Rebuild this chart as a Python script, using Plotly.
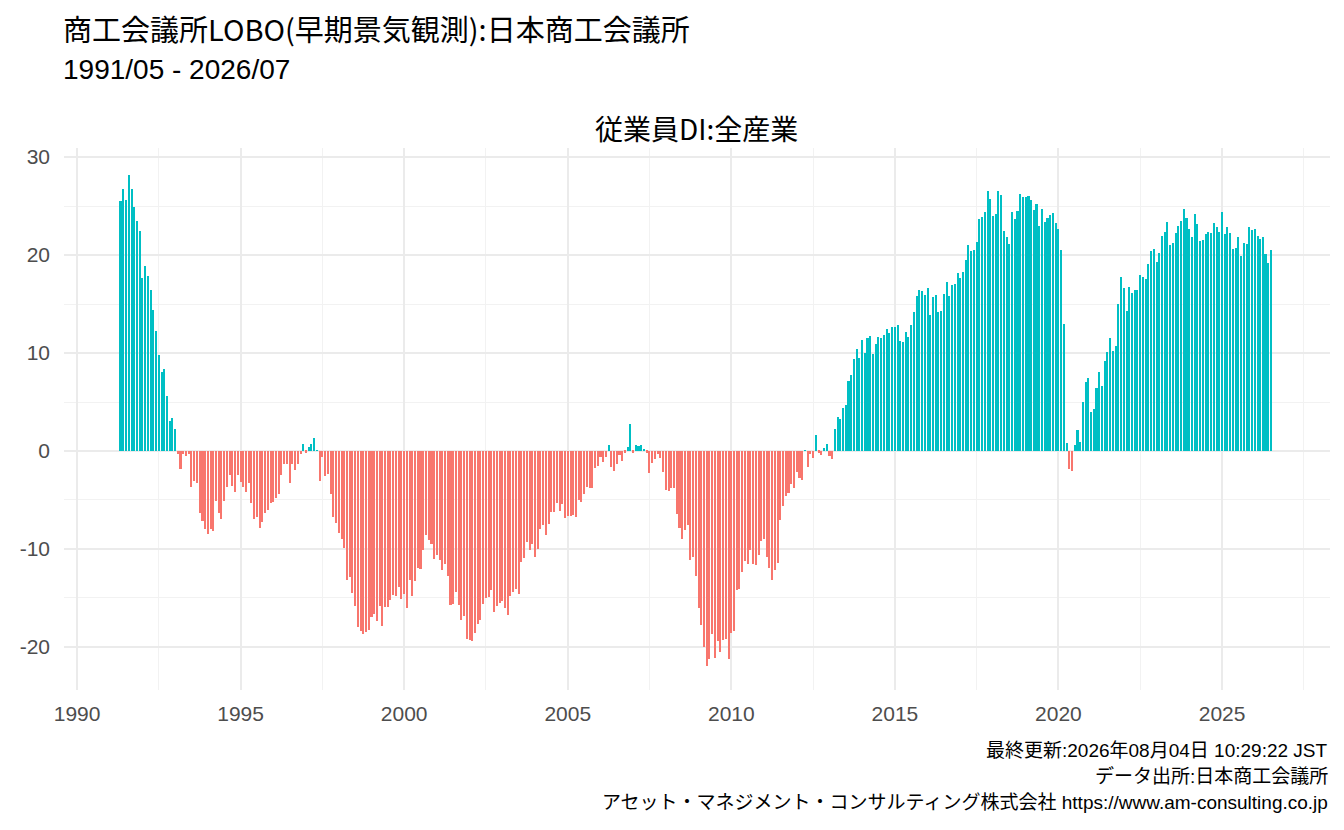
import pandas as pd
import plotly.graph_objects as go

# 従業員DI:全産業, monthly from 1991/05
start_month = "1991-05-01"
di_1991 = [25.5, 26.7, 25.6, 28.2, 26.7, 24.9, 23.5, 22.4]
di_1992 = [17.7, 18.9, 17.9, 16.4, 14.4, 12.2, 9.8, 8.1, 8.4, 5.6, 3.1, 3.4]
di_1993 = [2.2, -0.3, -1.8, -0.3, -0.5, -0.3, -3.7, -3.1, -3.3, -6.3, -7.1, -8.0]
di_1994 = [-8.5, -8.0, -8.2, -5.1, -6.3, -6.9, -5.1, -3.7, -2.4, -3.6, -4.2, -2.4]
di_1995 = [-3.2, -3.7, -4.2, -3.3, -5.3, -6.9, -6.7, -7.9, -7.2, -6.3, -6.0, -5.3]
di_1996 = [-5.2, -4.8, -4.4, -2.5, -1.3, -1.3, -3.3, -1.3, -1.9, -1.3, -0.3, 0.7]
di_1997 = [-0.2, 0.4, 0.7, 1.3, 0.1, -3.1, -0.6, -2.6, -2.3, -4.4, -6.7, -7.3]
di_1998 = [-8.4, -9.0, -9.9, -13.2, -12.9, -14.5, -15.8, -18.0, -18.4, -18.7, -18.5, -18.3]
di_1999 = [-16.9, -16.6, -17.3, -15.8, -17.9, -15.9, -15.9, -15.2, -14.7, -14.8, -13.9, -15.1]
di_2000 = [-14.6, -16.0, -13.2, -14.8, -13.3, -11.9, -12.0, -10.1, -8.6, -9.1, -9.5, -11.0]
di_2001 = [-10.6, -11.1, -12.1, -11.5, -12.8, -15.7, -15.6, -14.4, -15.7, -17.2, -16.8, -19.2]
di_2002 = [-19.3, -19.4, -18.6, -17.7, -17.2, -15.6, -15.0, -14.9, -14.2, -16.4, -15.8, -15.5]
di_2003 = [-15.3, -16.0, -16.7, -14.8, -14.4, -14.1, -14.6, -11.3, -10.9, -9.3, -10.1, -9.5]
di_2004 = [-10.8, -10.0, -8.0, -7.6, -8.6, -7.4, -6.2, -6.2, -5.3, -6.1, -5.4, -6.8]
di_2005 = [-6.6, -6.6, -6.5, -6.7, -5.0, -5.2, -4.4, -3.7, -3.8, -3.8, -1.7, -1.5]
di_2006 = [-0.6, -1.1, -0.6, 0.6, -1.6, -2.0, -1.3, -0.4, -1.0, -0.2, 0.4, 2.8]
di_2007 = [-0.2, 0.6, 0.5, 0.6, 0.2, -0.2, -2.2, -1.2, -0.8, -0.3, -0.7, -2.1]
di_2008 = [-4.0, -4.1, -3.8, -3.8, -6.4, -7.9, -9.0, -8.1, -7.6, -11.1, -10.8, -12.8]
di_2009 = [-16.0, -17.8, -20.0, -21.9, -21.2, -18.7, -21.1, -19.4, -20.5, -19.3, -19.2, -21.2]
di_2010 = [-18.6, -18.4, -14.2, -14.1, -12.3, -11.2, -11.5, -10.1, -11.5, -11.6, -10.6, -9.2]
di_2011 = [-9.0, -10.8, -11.9, -13.2, -12.1, -11.4, -7.0, -5.6, -4.6, -4.3, -3.4, -3.8]
di_2012 = [-2.1, -2.8, -3.0, 0.1, -1.6, -0.3, -0.7, 1.6, -0.2, -0.4, 0.3, 0.7]
di_2013 = [-0.5, -0.8, 2.2, 3.5, 3.3, 4.4, 4.7, 7.1, 7.8, 9.4, 10.4, 9.5]
di_2014 = [11.3, 10.0, 11.5, 11.7, 9.9, 10.9, 11.6, 11.5, 11.8, 12.5, 12.0, 12.7]
di_2015 = [12.7, 12.9, 11.2, 11.1, 12.1, 11.6, 12.9, 14.2, 15.8, 16.4, 16.3, 15.9]
di_2016 = [16.6, 13.9, 15.7, 15.9, 14.2, 14.3, 16.0, 17.2, 15.8, 16.9, 17.0, 18.2]
di_2017 = [17.7, 18.3, 19.5, 21.0, 20.4, 20.5, 21.3, 23.7, 23.9, 24.4, 26.5, 25.7]
di_2018 = [24.0, 24.2, 26.5, 26.1, 22.4, 21.8, 21.1, 24.4, 23.7, 24.5, 26.2, 25.9]
di_2019 = [25.9, 26.0, 25.6, 24.6, 25.2, 23.0, 24.7, 23.4, 23.8, 24.1, 24.3, 23.3]
di_2020 = [22.7, 20.5, 13.0, 0.8, -1.8, -2.0, 0.6, 2.1, 0.9, 5.0, 7.0, 7.5]
di_2021 = [4.0, 4.3, 6.4, 8.1, 6.6, 9.2, 10.1, 11.5, 10.2, 10.7, 15.0, 17.8]
di_2022 = [16.6, 14.3, 16.7, 16.1, 16.4, 16.4, 18.0, 17.8, 17.6, 19.1, 20.4, 20.6]
di_2023 = [19.3, 20.2, 21.9, 22.3, 23.4, 21.0, 21.2, 22.2, 23.0, 23.5, 24.7, 23.8]
di_2024 = [22.7, 21.8, 24.2, 23.2, 21.4, 21.5, 22.1, 22.3, 22.2, 23.3, 22.9, 22.3]
di_2025 = [24.4, 22.1, 22.9, 22.2, 20.6, 20.7, 21.8, 19.9, 21.2, 21.1, 22.9, 22.6]
di_2026 = [22.7, 21.9, 21.6, 21.8, 20.1, 19.2, 20.5]

values = (di_1991 + di_1992 + di_1993 + di_1994 + di_1995 + di_1996 + di_1997
          + di_1998 + di_1999 + di_2000 + di_2001 + di_2002 + di_2003 + di_2004
          + di_2005 + di_2006 + di_2007 + di_2008 + di_2009 + di_2010 + di_2011
          + di_2012 + di_2013 + di_2014 + di_2015 + di_2016 + di_2017 + di_2018
          + di_2019 + di_2020 + di_2021 + di_2022 + di_2023 + di_2024 + di_2025
          + di_2026)
dates = pd.date_range(start_month, periods=len(values), freq="MS")

y_ticks = [-20, -10, 0, 10, 20, 30]
y_tick_labels = ["-20", "-10", "0", "10", "20", "30"]

title_main = "商工会議所LOBO(早期景気観測):日本商工会議所"
title_period = "1991/05 - 2026/07"
panel_title = "従業員DI:全産業"
footer_lines = [
    "最終更新:2026年08月04日 10:29:22 JST",
    "データ出所:日本商工会議所",
    "アセット・マネジメント・コンサルティング株式会社 https://www.am-consulting.co.jp",
]

# page body has an 8px margin, so the figure is drawn 8px in from the window corner
OFF = 8
W, H = 1344 - OFF, 830 - OFF
P_LEFT, P_RIGHT, P_TOP, P_BOTTOM = 62, 1330, 148, 690  # panel, window pixels
L, R = P_LEFT - OFF, 1344 - P_RIGHT
T, B = P_TOP - OFF, 830 - P_BOTTOM


def px(x):
    return (x - P_LEFT) / (P_RIGHT - P_LEFT)


def py(y):
    return (P_BOTTOM - y) / (P_BOTTOM - P_TOP)


colors = ["#00BFC4" if v >= 0 else "#F8766D" for v in values]
cjk = "Noto Sans CJK JP"
latin = "Liberation Sans, " + cjk
grid = "#EBEBEB"
minor_grid = "#F2F2F2"

fig = go.Figure(
    go.Bar(
        x=dates,
        y=values,
        marker=dict(color=colors, line=dict(width=0)),
        width=23 * 24 * 3600 * 1000,
        hovertemplate="%{x|%Y/%m}: %{y}<extra></extra>",
    )
)

fig.update_xaxes(
    type="date",
    range=["1989-08-08", "2028-04-20"],
    tick0="1990-01-01",
    dtick="M60",
    tickformat="%Y",
    showgrid=True,
    gridcolor=grid,
    gridwidth=1.6,
    minor=dict(dtick="M30", showgrid=True, gridcolor=minor_grid, gridwidth=1),
    zeroline=False,
    showline=False,
    ticks="",
    ticklabelstandoff=9,
    tickfont=dict(family=latin, size=21, color="#4D4D4D"),
)
fig.update_yaxes(
    range=[-24.39, 30.92],
    tickmode="array",
    tickvals=y_ticks,
    ticktext=y_tick_labels,
    showgrid=True,
    gridcolor=grid,
    gridwidth=1.6,
    minor=dict(tickmode="linear", tick0=5, dtick=10, showgrid=True,
               gridcolor=minor_grid, gridwidth=1),
    zeroline=False,
    showline=False,
    ticks="",
    ticklabelstandoff=13,
    tickfont=dict(family=latin, size=21, color="#4D4D4D"),
)

annotations = [
    dict(text=title_main, x=px(62), y=py(28), xanchor="left", yanchor="middle",
         xshift=-3, font=dict(family=cjk, size=29, color="black")),
    dict(text=title_period, x=px(62), y=py(70), xanchor="left", yanchor="middle",
         xshift=-3, font=dict(family=latin, size=28, color="black")),
    dict(text=panel_title, x=px(695), y=py(128), xanchor="center", yanchor="middle",
         font=dict(family=cjk, size=28, color="black")),
]
for i, line in enumerate(footer_lines):
    annotations.append(
        dict(text=line, x=px(1328), y=py(750 + 26 * i), xanchor="right", yanchor="middle",
             xshift=2, font=dict(family=latin, size=19, color="black"))
    )
for a in annotations:
    a.update(xref="paper", yref="paper", showarrow=False)

fig.update_layout(
    width=W,
    height=H,
    margin=dict(l=L, r=R, t=T, b=B),
    plot_bgcolor="white",
    paper_bgcolor="white",
    showlegend=False,
    bargap=0,
    annotations=annotations,
)

fig.write_html("out.html")
